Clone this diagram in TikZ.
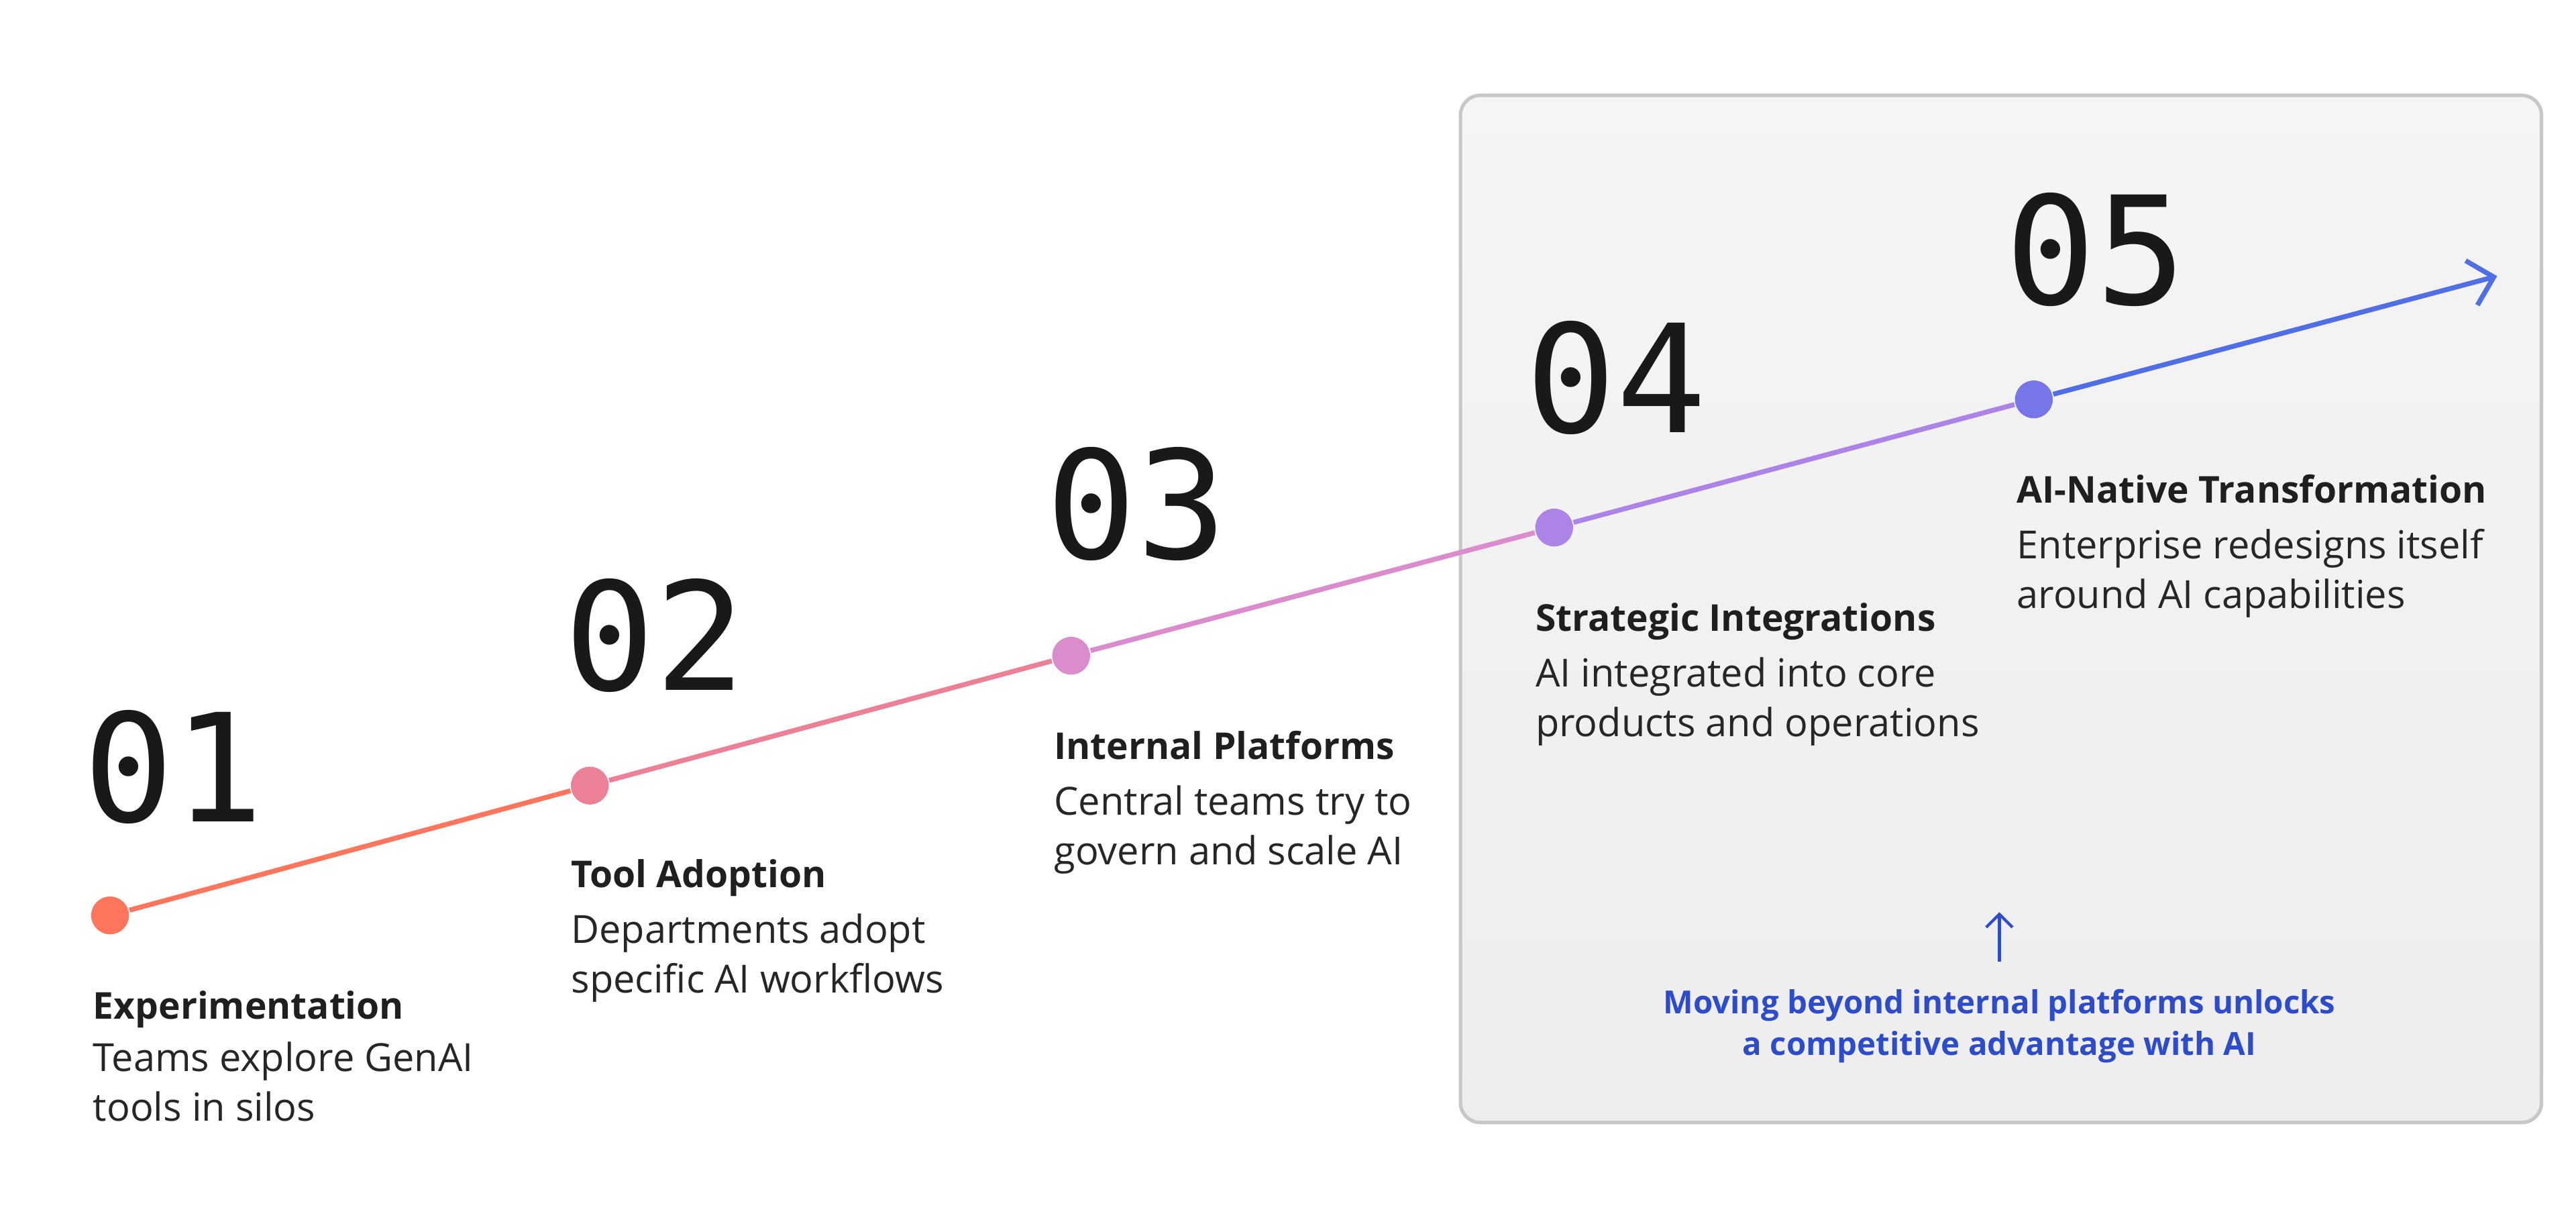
\documentclass[tikz,border=0pt]{standalone}
\usepackage{fontspec}
\setmainfont{Open Sans}
\newfontfamily\numfont{DejaVu Sans Mono}
\usetikzlibrary{arrows.meta}
\definecolor{cone}{RGB}{255,118,92}
\definecolor{ctwo}{RGB}{236,128,150}
\definecolor{cthree}{RGB}{218,140,205}
\definecolor{cfour}{RGB}{172,132,232}
\definecolor{cfive}{RGB}{118,118,232}
\definecolor{cend}{RGB}{80,110,230}
\definecolor{noteblue}{RGB}{45,75,205}
\tikzset{
  stagedot/.style={circle,fill=#1,minimum size=0.23cm,inner sep=0pt},
  stagenum/.style={anchor=base west,inner sep=0pt,font=\numfont\fontsize{26}{26}\selectfont,text=black!90},
  stagetitle/.style={anchor=base west,inner sep=0pt,font=\fontsize{6.4}{8}\selectfont\bfseries,text=black!88},
  stagetext/.style={anchor=base west,inner sep=0pt,align=left,font=\fontsize{6.7}{8.6}\selectfont,text=black!85},
  seg/.style={line width=0.85pt,draw=#1}
}
\begin{document}
\begin{tikzpicture}[x=0.01cm,y=-0.01cm]
      \useasboundingbox (0,0) rectangle (1568,741);
      \fill [white] (0,0) rectangle (1568,741);
      % highlight panel
      \shade [top color=black!4,bottom color=black!7,rounded corners=0.12cm]
        (889,58) rectangle (1547,683);
      \draw [black!22,line width=0.6pt,rounded corners=0.12cm] (889,58) rectangle (1547,683);
      % dots
      \node [stagedot=cone] (d1) at (67,557) {};
      \node [stagedot=ctwo] (d2) at (359,478) {};
      \node [stagedot=cthree] (d3) at (652,399) {};
      \node [stagedot=cfour] (d4) at (946,321) {};
      \node [stagedot=cfive] (d5) at (1238,243) {};
      \coordinate (tip) at (1520,168);
      \draw [seg=cone] (d1) -- (d2);
      \draw [seg=ctwo] (d2) -- (d3);
      \draw [seg=cthree] (d3) -- (d4);
      \draw [seg=cfour] (d4) -- (d5);
      \draw [seg=cend,-{Straight Barb[length=0.14cm,width=0.28cm]}] (d5) -- (tip);
      % numbers
      \node [stagenum] (n1) at (50,500) {01};
      \node [stagenum] (n2) at (343,420) {02};
      \node [stagenum] (n3) at (636,340) {03};
      \node [stagenum] (n4) at (928,263) {04};
      \node [stagenum] (n5) at (1220,185) {05};
      % titles and texts (base = last line)
      \node [stagetitle] (t1) at (56,620) {Experimentation};
      \node [stagetext] (x1) at (56,682) {Teams explore GenAI\\tools in silos};
      \node [stagetitle] (t2) at (347,540) {Tool Adoption};
      \node [stagetext] (x2) at (347,604) {Departments adopt\\specific AI workflows};
      \node [stagetitle] (t3) at (641,462) {Internal Platforms};
      \node [stagetext] (x3) at (641,526) {Central teams try to\\govern and scale AI};
      \node [stagetitle] (t4) at (934,384) {Strategic Integrations};
      \node [stagetext] (x4) at (934,448) {AI integrated into core\\products and operations};
      \node [stagetitle] (t5) at (1227,306) {AI-Native Transformation};
      \node [stagetext] (x5) at (1227,370) {Enterprise redesigns itself\\around AI capabilities};
      % note
      \node [anchor=base,inner sep=0pt,align=center,text=noteblue,
        font=\fontsize{5.5}{7.2}\selectfont\bfseries] (note) at (1217,642)
        {Moving beyond internal platforms unlocks\\a competitive advantage with AI};
      \coordinate (up) at (1217,555);
      \draw [noteblue,line width=0.5pt,-{Straight Barb[length=0.08cm,width=0.16cm]}]
        (1217,585) -- (up);
    \end{tikzpicture}
\end{document}
